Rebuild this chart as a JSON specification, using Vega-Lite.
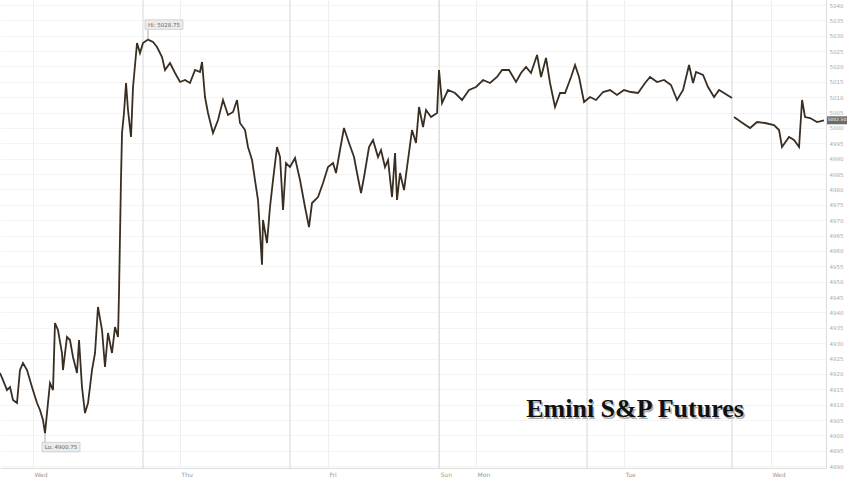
{
"$schema": "https://vega.github.io/schema/vega-lite/v6.json",
"width": 826, "height": 468,
"autosize": {"type": "none"},
"padding": {"left": 0, "top": 0, "right": 22, "bottom": 13},
"background": "white",
"config": {"view": {"stroke": null}, "font": "DejaVu Sans"},
"resolve": {"axis": {"x": "independent", "y": "independent"}},
"datasets": {
"es": [
{"t":0,"p":4920.29,"seg":1},{"t":0.49,"p":4918.01,"seg":1},{"t":1.14,"p":4914.76,"seg":1},{"t":1.63,"p":4915.73,"seg":1},{"t":2.11,"p":4911.51,"seg":1},{"t":2.76,"p":4910.53,"seg":1},{"t":3.25,"p":4921.27,"seg":1},{"t":3.74,"p":4923.55,"seg":1},{"t":4.39,"p":4921.27,"seg":1},{"t":5.2,"p":4915.73,"seg":1},{"t":6.02,"p":4910.53,"seg":1},{"t":6.5,"p":4908.26,"seg":1},{"t":6.99,"p":4905.0,"seg":1},{"t":7.32,"p":4900.75,"seg":1},{"t":7.8,"p":4910.53,"seg":1},{"t":8.13,"p":4917.04,"seg":1},{"t":8.62,"p":4914.76,"seg":1},{"t":8.94,"p":4936.56,"seg":1},{"t":9.43,"p":4934.28,"seg":1},{"t":10.08,"p":4926.8,"seg":1},{"t":10.24,"p":4921.27,"seg":1},{"t":10.89,"p":4932.01,"seg":1},{"t":11.38,"p":4931.03,"seg":1},{"t":11.87,"p":4925.5,"seg":1},{"t":12.52,"p":4920.29,"seg":1},{"t":12.85,"p":4931.03,"seg":1},{"t":13.33,"p":4915.73,"seg":1},{"t":13.82,"p":4907.28,"seg":1},{"t":14.31,"p":4910.53,"seg":1},{"t":14.96,"p":4921.27,"seg":1},{"t":15.45,"p":4926.8,"seg":1},{"t":15.93,"p":4941.76,"seg":1},{"t":16.59,"p":4934.28,"seg":1},{"t":17.07,"p":4922.25,"seg":1},{"t":17.56,"p":4933.31,"seg":1},{"t":18.21,"p":4926.8,"seg":1},{"t":18.7,"p":4935.26,"seg":1},{"t":19.19,"p":4932.01,"seg":1},{"t":19.35,"p":4946.32,"seg":1},{"t":19.67,"p":4983.07,"seg":1},{"t":19.84,"p":4998.36,"seg":1},{"t":20.16,"p":5004.87,"seg":1},{"t":20.49,"p":5014.63,"seg":1},{"t":20.81,"p":5005.85,"seg":1},{"t":21.3,"p":4997.06,"seg":1},{"t":21.63,"p":5013.33,"seg":1},{"t":22.28,"p":5027.64,"seg":1},{"t":22.76,"p":5024.39,"seg":1},{"t":23.25,"p":5027.64,"seg":1},{"t":24.06,"p":5028.75,"seg":1},{"t":24.88,"p":5027.97,"seg":1},{"t":25.53,"p":5026.34,"seg":1},{"t":26.34,"p":5023.09,"seg":1},{"t":26.83,"p":5018.86,"seg":1},{"t":27.64,"p":5021.14,"seg":1},{"t":28.46,"p":5017.88,"seg":1},{"t":29.27,"p":5014.96,"seg":1},{"t":30.08,"p":5015.61,"seg":1},{"t":30.89,"p":5014.63,"seg":1},{"t":31.71,"p":5018.86,"seg":1},{"t":32.52,"p":5018.21,"seg":1},{"t":32.85,"p":5021.46,"seg":1},{"t":33.33,"p":5010.07,"seg":1},{"t":33.82,"p":5004.87,"seg":1},{"t":34.63,"p":4998.36,"seg":1},{"t":35.45,"p":5002.59,"seg":1},{"t":36.26,"p":5009.1,"seg":1},{"t":37.07,"p":5004.22,"seg":1},{"t":37.89,"p":5005.2,"seg":1},{"t":38.54,"p":5009.1,"seg":1},{"t":39.02,"p":5001.62,"seg":1},{"t":39.84,"p":4999.34,"seg":1},{"t":40.32,"p":4993.81,"seg":1},{"t":40.98,"p":4989.58,"seg":1},{"t":41.46,"p":4983.07,"seg":1},{"t":41.95,"p":4976.57,"seg":1},{"t":42.6,"p":4955.5,"seg":1},{"t":42.76,"p":4970.06,"seg":1},{"t":43.41,"p":4962.58,"seg":1},{"t":43.9,"p":4974.29,"seg":1},{"t":44.39,"p":4983.07,"seg":1},{"t":45.04,"p":4993.81,"seg":1},{"t":45.53,"p":4990.56,"seg":1},{"t":46.02,"p":4973.31,"seg":1},{"t":46.5,"p":4988.61,"seg":1},{"t":47.15,"p":4987.3,"seg":1},{"t":47.97,"p":4990.23,"seg":1},{"t":48.78,"p":4983.07,"seg":1},{"t":49.59,"p":4974.29,"seg":1},{"t":50.24,"p":4967.78,"seg":1},{"t":50.73,"p":4975.59,"seg":1},{"t":51.71,"p":4977.54,"seg":1},{"t":52.52,"p":4982.1,"seg":1},{"t":53.33,"p":4987.3,"seg":1},{"t":54.15,"p":4988.61,"seg":1},{"t":54.63,"p":4985.35,"seg":1},{"t":55.28,"p":4992.84,"seg":1},{"t":55.93,"p":4999.99,"seg":1},{"t":56.75,"p":4995.11,"seg":1},{"t":57.56,"p":4990.56,"seg":1},{"t":58.05,"p":4985.35,"seg":1},{"t":58.7,"p":4978.85,"seg":1},{"t":59.19,"p":4984.05,"seg":1},{"t":60.0,"p":4993.81,"seg":1},{"t":60.65,"p":4996.09,"seg":1},{"t":61.46,"p":4990.56,"seg":1},{"t":61.95,"p":4992.84,"seg":1},{"t":62.6,"p":4987.3,"seg":1},{"t":63.09,"p":4989.58,"seg":1},{"t":63.74,"p":4977.54,"seg":1},{"t":64.23,"p":4991.86,"seg":1},{"t":64.55,"p":4976.57,"seg":1},{"t":65.04,"p":4985.35,"seg":1},{"t":65.69,"p":4979.82,"seg":1},{"t":66.18,"p":4987.3,"seg":1},{"t":66.99,"p":4999.34,"seg":1},{"t":67.64,"p":4995.11,"seg":1},{"t":68.13,"p":5006.82,"seg":1},{"t":68.78,"p":5000.32,"seg":1},{"t":69.27,"p":5005.85,"seg":1},{"t":70.08,"p":5003.57,"seg":1},{"t":71.06,"p":5004.87,"seg":1},{"t":71.38,"p":5018.86,"seg":1},{"t":71.87,"p":5008.12,"seg":1},{"t":72.84,"p":5012.35,"seg":1},{"t":73.98,"p":5011.38,"seg":1},{"t":75.12,"p":5009.1,"seg":1},{"t":76.26,"p":5012.35,"seg":1},{"t":77.4,"p":5013.33,"seg":1},{"t":78.54,"p":5015.61,"seg":1},{"t":79.67,"p":5014.63,"seg":1},{"t":80.81,"p":5016.58,"seg":1},{"t":81.63,"p":5018.86,"seg":1},{"t":82.76,"p":5018.86,"seg":1},{"t":83.9,"p":5014.96,"seg":1},{"t":84.71,"p":5017.88,"seg":1},{"t":85.53,"p":5019.84,"seg":1},{"t":86.34,"p":5017.88,"seg":1},{"t":87.32,"p":5023.74,"seg":1},{"t":87.97,"p":5016.58,"seg":1},{"t":88.78,"p":5022.76,"seg":1},{"t":89.43,"p":5014.63,"seg":1},{"t":90.24,"p":5006.82,"seg":1},{"t":91.06,"p":5011.38,"seg":1},{"t":91.87,"p":5011.38,"seg":1},{"t":92.85,"p":5016.58,"seg":1},{"t":93.5,"p":5020.49,"seg":1},{"t":94.15,"p":5016.58,"seg":1},{"t":94.96,"p":5008.45,"seg":1},{"t":95.93,"p":5010.07,"seg":1},{"t":96.91,"p":5009.1,"seg":1},{"t":98.05,"p":5011.7,"seg":1},{"t":99.19,"p":5012.35,"seg":1},{"t":100.32,"p":5010.73,"seg":1},{"t":101.46,"p":5012.35,"seg":1},{"t":102.6,"p":5011.7,"seg":1},{"t":103.74,"p":5011.38,"seg":1},{"t":104.88,"p":5014.63,"seg":1},{"t":105.69,"p":5016.58,"seg":1},{"t":106.83,"p":5014.96,"seg":1},{"t":107.97,"p":5015.61,"seg":1},{"t":109.1,"p":5013.98,"seg":1},{"t":110.08,"p":5009.1,"seg":1},{"t":111.06,"p":5012.35,"seg":1},{"t":112.03,"p":5020.49,"seg":1},{"t":112.68,"p":5014.63,"seg":1},{"t":113.17,"p":5018.21,"seg":1},{"t":114.31,"p":5017.23,"seg":1},{"t":115.12,"p":5013.33,"seg":1},{"t":116.1,"p":5010.07,"seg":1},{"t":116.91,"p":5012.35,"seg":1},{"t":117.72,"p":5011.38,"seg":1},{"t":119.02,"p":5009.75,"seg":1},
{"t":119.35,"p":5003.57,"seg":2},{"t":120.49,"p":5001.94,"seg":2},{"t":121.95,"p":4999.99,"seg":2},{"t":123.09,"p":5001.94,"seg":2},{"t":124.39,"p":5001.62,"seg":2},{"t":125.85,"p":5000.97,"seg":2},{"t":126.67,"p":4999.34,"seg":2},{"t":127.15,"p":4993.81,"seg":2},{"t":128.29,"p":4997.06,"seg":2},{"t":129.1,"p":4996.09,"seg":2},{"t":129.92,"p":4993.81,"seg":2},{"t":130.41,"p":5009.1,"seg":2},{"t":130.89,"p":5003.57,"seg":2},{"t":131.71,"p":5003.24,"seg":2},{"t":132.84,"p":5001.94,"seg":2},{"t":133.98,"p":5002.5,"seg":2}
],
"sessions": [{"t":23.25},{"t":47.15},{"t":71.38},{"t":95.45},{"t":119.02}],
"notes": [
{"t":24.06,"p":5028.75,"label":"Hi: 5028.75","kind":"hi"},
{"t":7.32,"p":4900.75,"label":"Lo: 4900.75","kind":"lo"}
],
"last": [{"t":134.3,"p":5002.5,"label":"5002.50"}],
"title": [{"t":103.25,"p":4908.5,"label":"Emini S&P Futures"}]
},
"layer": [
{
"data": {"name": "sessions"},
"mark": {"type": "rule", "color": "#d6d6d6", "strokeWidth": 1},
"encoding": {
"x": {"field": "t", "type": "quantitative", "scale": {"domain": [0, 134.3], "nice": false, "zero": false}, "axis": null}
}
},
{
"data": {"name": "es"},
"mark": {"type": "line", "color": "#3a2e22", "strokeWidth": 1.8},
"encoding": {
"x": {"field": "t", "type": "quantitative", "scale": {"domain": [0, 134.3], "nice": false, "zero": false},
"axis": {"title": null, "orient": "bottom", "values": [5.37, 29.27, 53.33, 71.38, 77.4, 101.46, 125.36],
"labelExpr": "datum.value < 10 ? 'Wed' : datum.value < 35 ? 'Thu' : datum.value < 60 ? 'Fri' : datum.value < 75 ? 'Sun' : datum.value < 90 ? 'Mon' : datum.value < 110 ? 'Tue' : 'Wed'",
"labelAlign": "left", "labelFlush": false, "labelOverlap": false, "labelFontSize": 6, "labelColor": "#999", "labelPadding": 3, "labelOffset": 1,
"ticks": false, "grid": true, "gridColor": "#efefef", "domainColor": "#dddddd"}},
"y": {"field": "p", "type": "quantitative", "scale": {"domain": [4889.4, 5041.63], "nice": false, "zero": false},
"axis": {"title": null, "orient": "right", "values": [4890,4895,4900,4905,4910,4915,4920,4925,4930,4935,4940,4945,4950,4955,4960,4965,4970,4975,4980,4985,4990,4995,5000,5005,5010,5015,5020,5025,5030,5035,5040],
"format": "d", "labelFontSize": 5.5, "labelColor": "#aaa", "labelPadding": 3, "ticks": false, "grid": true, "gridColor": "#f4f4f4", "domainColor": "#dddddd", "labelOverlap": false}},
"detail": {"field": "seg", "type": "nominal"}
}
},
{
"data": {"name": "notes"},
"transform": [{"filter": "datum.kind == 'hi'"}],
"layer": [
{"mark": {"type": "rule", "color": "#999", "strokeWidth": 0.8, "y2Offset": -10},
"encoding": {"x": {"field": "t", "type": "quantitative", "axis": null}, "y": {"field": "p", "type": "quantitative", "axis": null}, "y2": {"field": "p"}}},
{"mark": {"type": "point", "shape": "M-1,-0.25L1,-0.25L1,0.25L-1,0.25Z", "size": 1444, "filled": true, "fill": "#ececec", "stroke": "#bbbbbb", "strokeWidth": 0.6, "opacity": 1, "xOffset": 16, "yOffset": -15},
"encoding": {"x": {"field": "t", "type": "quantitative", "axis": null}, "y": {"field": "p", "type": "quantitative", "axis": null}}},
{"mark": {"type": "text", "fontSize": 5.5, "color": "#666", "align": "center", "baseline": "middle", "xOffset": 16, "yOffset": -15},
"encoding": {"x": {"field": "t", "type": "quantitative", "axis": null}, "y": {"field": "p", "type": "quantitative", "axis": null}, "text": {"field": "label"}}}
]
},
{
"data": {"name": "notes"},
"transform": [{"filter": "datum.kind == 'lo'"}],
"layer": [
{"mark": {"type": "rule", "color": "#999", "strokeWidth": 0.8, "y2Offset": 10},
"encoding": {"x": {"field": "t", "type": "quantitative", "axis": null}, "y": {"field": "p", "type": "quantitative", "axis": null}, "y2": {"field": "p"}}},
{"mark": {"type": "point", "shape": "M-1,-0.25L1,-0.25L1,0.25L-1,0.25Z", "size": 1444, "filled": true, "fill": "#ececec", "stroke": "#bbbbbb", "strokeWidth": 0.6, "opacity": 1, "xOffset": 16, "yOffset": 14},
"encoding": {"x": {"field": "t", "type": "quantitative", "axis": null}, "y": {"field": "p", "type": "quantitative", "axis": null}}},
{"mark": {"type": "text", "fontSize": 5.5, "color": "#666", "align": "center", "baseline": "middle", "xOffset": 16, "yOffset": 14},
"encoding": {"x": {"field": "t", "type": "quantitative", "axis": null}, "y": {"field": "p", "type": "quantitative", "axis": null}, "text": {"field": "label"}}}
]
},
{
"data": {"name": "last"},
"layer": [
{"mark": {"type": "point", "shape": "M-1,-0.4L1,-0.4L1,0.4L-1,0.4Z", "size": 400, "filled": true, "fill": "#6b6b6b", "opacity": 1, "xOffset": 11},
"encoding": {"x": {"field": "t", "type": "quantitative", "axis": null}, "y": {"field": "p", "type": "quantitative", "axis": null}}},
{"mark": {"type": "text", "fontSize": 4.5, "color": "white", "align": "center", "baseline": "middle", "xOffset": 11},
"encoding": {"x": {"field": "t", "type": "quantitative", "axis": null}, "y": {"field": "p", "type": "quantitative", "axis": null}, "text": {"field": "label"}}}
]
},
{
"data": {"name": "title"},
"layer": [
{"mark": {"type": "text", "font": "Liberation Serif", "fontWeight": "bold", "fontSize": 26, "color": "#b0b0b0", "align": "center", "baseline": "middle", "xOffset": 1.5, "yOffset": 1.5},
"encoding": {"x": {"field": "t", "type": "quantitative", "axis": null}, "y": {"field": "p", "type": "quantitative", "axis": null}, "text": {"field": "label"}}},
{"mark": {"type": "text", "font": "Liberation Serif", "fontWeight": "bold", "fontSize": 26, "color": "#111", "align": "center", "baseline": "middle"},
"encoding": {"x": {"field": "t", "type": "quantitative", "axis": null}, "y": {"field": "p", "type": "quantitative", "axis": null}, "text": {"field": "label"}}}
]
}
]
}
